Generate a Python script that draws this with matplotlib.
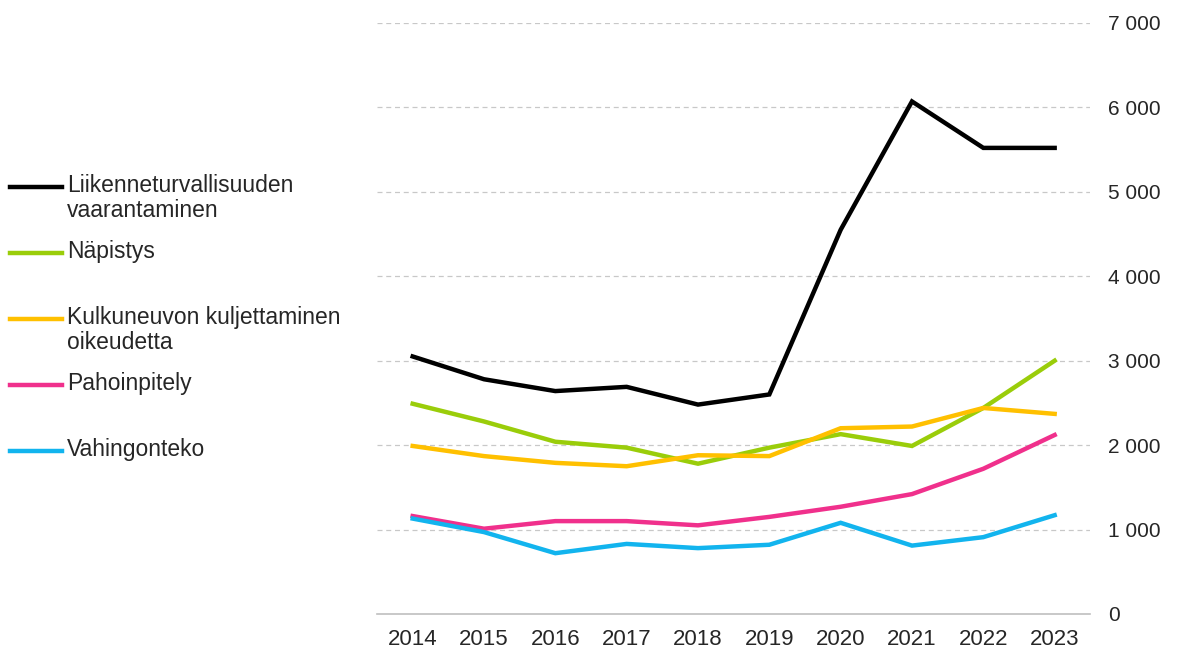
import matplotlib
matplotlib.use("Agg")
import matplotlib.pyplot as plt
from matplotlib.lines import Line2D

plt.rcParams["font.family"] = ["Liberation Sans", "DejaVu Sans"]

# ── Data ──
years = [2014, 2015, 2016, 2017, 2018, 2019, 2020, 2021, 2022, 2023]

liikenneturvallisuus = [3050, 2780, 2640, 2690, 2480, 2600, 4550, 6070, 5520, 5520]
napistys = [2490, 2280, 2040, 1970, 1780, 1970, 2130, 1990, 2440, 3000]
kulkuneuvo = [1990, 1870, 1790, 1750, 1880, 1870, 2200, 2220, 2440, 2370]
pahoinpitely = [1160, 1010, 1100, 1100, 1050, 1150, 1270, 1420, 1720, 2120]
vahingonteko = [1130, 970, 720, 830, 780, 820, 1080, 810, 910, 1170]

labels = [
    "Liikenneturvallisuuden\nvaarantaminen",
    "Näpistys",
    "Kulkuneuvon kuljettaminen\noikeudetta",
    "Pahoinpitely",
    "Vahingonteko",
]
series = [liikenneturvallisuus, napistys, kulkuneuvo, pahoinpitely, vahingonteko]
colors = ["#000000", "#9ACD0A", "#FFC000", "#F0308C", "#12B4EE"]

yticks = [0, 1000, 2000, 3000, 4000, 5000, 6000, 7000]
ytick_labels = ["0", "1 000", "2 000", "3 000", "4 000", "5 000", "6 000", "7 000"]

# ── Plot ──
fig = plt.figure(figsize=(11.8, 6.55), dpi=100)
ax = fig.add_axes([0.3195, 0.0626, 0.6045, 0.9024])

for vals, col in zip(series, colors):
    ax.plot(years, vals, color=col, lw=3.2, solid_joinstyle="miter", zorder=3)

ax.set_xlim(years[0] - 0.5, years[-1] + 0.5)
ax.set_ylim(0, 7000)
ax.set_xticks(years)
ax.set_yticks(yticks)
ax.set_yticklabels(ytick_labels)
ax.yaxis.tick_right()
ax.tick_params(axis="both", length=0, colors="#262626")
ax.tick_params(axis="y", pad=13, labelsize=15)
ax.tick_params(axis="x", pad=11, labelsize=16)

for y in yticks[1:]:
    ax.axhline(y, color="#C8C8C8", lw=0.9, ls=(0, (4, 3)), zorder=1)

for s in ["top", "left", "right"]:
    ax.spines[s].set_visible(False)
ax.spines["bottom"].set_color("#BFBFBF")
ax.spines["bottom"].set_linewidth(1.2)

# ── Legend (fixed pitch, manual) ──
y0 = 1 - 187 / 655
pitch = 66 / 655
for i, (lab, col) in enumerate(zip(labels, colors)):
    yy = y0 - i * pitch
    fig.add_artist(Line2D([10 / 1180, 62 / 1180], [yy, yy], color=col, lw=3.2,
                          transform=fig.transFigure))
    fig.text(67 / 1180, yy + 13 / 655, lab, fontsize=16.5, color="#262626",
             va="top", ha="left", linespacing=1.1)

plt.savefig("out.png", dpi=100)
